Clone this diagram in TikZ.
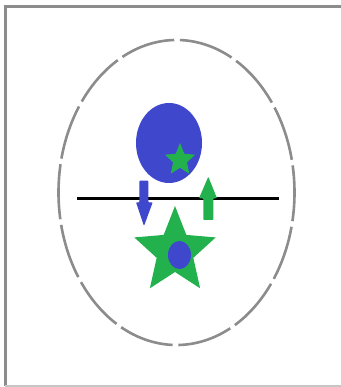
\documentclass[tikz,border=0pt]{standalone}
\definecolor{myblue}{HTML}{3F48CC}
\definecolor{mygreen}{HTML}{22B14C}
\definecolor{framegray}{HTML}{8C8C8C}
\tikzset{
  starshape/.style={fill=mygreen},
  dashring/.style={draw=framegray, line width=2.6pt, dash pattern=on 55.2pt off 5.7pt, dash phase=28pt},
}
\begin{document}
\begin{tikzpicture}[x=1pt,y=1pt]
\useasboundingbox (0,0) rectangle (340,387);
\fill[white] (0,0) rectangle (340,387);
% frame
\draw[framegray, line width=2.6pt] (5.3,1) -- (5.3,380.5) -- (341,380.5);
\draw[framegray!50, line width=1.4pt] (5.3,1) -- (341,1);
% dashed ellipse
\draw[dashring] (176.5,194.5) ellipse [x radius=118, y radius=152.5];
% blue ellipse with small star
\fill[myblue] (169,244) ellipse [x radius=33, y radius=40];
\fill[starshape, shift={(180,227)}] (0,17) \foreach \i in {0,...,4} {
  -- ({0.93*7.8*cos(126+72*\i)},{7.8*sin(126+72*\i)})
  -- ({0.93*17*cos(162+72*\i)},{17*sin(162+72*\i)})} -- cycle;
% black line
\coordinate (l1) at (77,188);
\coordinate (l2) at (279,188);
\draw[black, line width=3pt] (l1) -- (l2);
% blue arrow down
\fill[myblue, rounded corners=0.8pt] (139.3,206.3) -- (148.3,206.3) -- (148.3,184.7) -- (152.7,184.7) -- (144,161) -- (136,184.7) -- (139.3,184.7) -- cycle;
% green arrow up
\fill[mygreen, rounded corners=0.8pt] (203.3,167) -- (213.3,167) -- (213.3,188.7) -- (217,188.7) -- (208.3,210.3) -- (199,188.7) -- (203.3,188.7) -- cycle;
% big star with blue ellipse
\fill[starshape, shift={(175,135.5)}] (0,45.5) \foreach \i in {0,...,4} {
  -- ({0.94*20.5*cos(126+72*\i)},{20.5*sin(126+72*\i)})
  -- ({0.94*45.5*cos(162+72*\i)},{45.5*sin(162+72*\i)})} -- cycle;
\fill[myblue] (179.5,132) ellipse [x radius=11.5, y radius=14];
\end{tikzpicture}
\end{document}
